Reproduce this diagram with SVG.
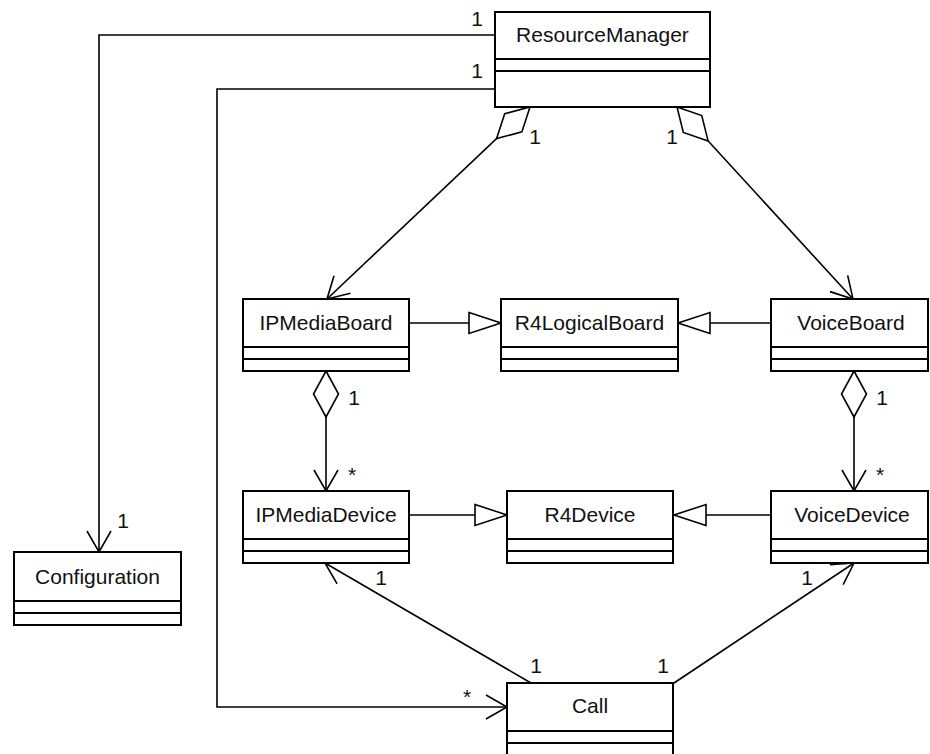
<svg xmlns="http://www.w3.org/2000/svg" width="930" height="754" viewBox="0 0 930 754">
<style>
  .box { fill: #ffffff; stroke: #000000; stroke-width: 2; }
  .sep { stroke: #000000; stroke-width: 2; fill: none; }
  .name { font-family: "Liberation Sans", Arial, sans-serif; font-size: 21px; fill: #111111; text-anchor: middle; }
  .mult { font-family: "Liberation Sans", Arial, sans-serif; font-size: 21px; fill: #111111; text-anchor: middle; }
  .conn { fill: none; stroke: #000000; stroke-width: 1.6; }
</style>
<defs>
  <marker id="open" markerUnits="userSpaceOnUse" markerWidth="40" markerHeight="40" refX="0" refY="0" orient="auto" style="overflow:visible">
    <path d="M -21 -12 L 0 0 L -21 12" fill="none" stroke="#000" stroke-width="1.6"/>
  </marker>
  <marker id="tri" markerUnits="userSpaceOnUse" markerWidth="40" markerHeight="40" refX="0" refY="0" orient="auto" style="overflow:visible">
    <path d="M -32 -10.5 L 0 0 L -32 10.5 Z" fill="#fff" stroke="#000" stroke-width="1.6"/>
  </marker>
  <marker id="dia" markerUnits="userSpaceOnUse" markerWidth="60" markerHeight="40" refX="0" refY="0" orient="auto" style="overflow:visible">
    <path d="M 0 0 L 23 -12.5 L 46 0 L 23 12.5 Z" fill="#fff" stroke="#000" stroke-width="1.6"/>
  </marker>
</defs>

<g id="connectors">
  <polyline id="c-rm-config" class="conn" points="495,35 99,35 99,552" marker-end="url(#open)"/>
  <polyline id="c-rm-call" class="conn" points="495,89 217,89 217,707 507,707" marker-end="url(#open)"/>
  <line id="c-rm-ipboard" class="conn" x1="530" y1="107" x2="327" y2="299" marker-start="url(#dia)" marker-end="url(#open)"/>
  <line id="c-rm-voiceboard" class="conn" x1="677" y1="107" x2="853" y2="299" marker-start="url(#dia)" marker-end="url(#open)"/>
  <line id="c-ipboard-r4board" class="conn" x1="409" y1="323" x2="501" y2="323" marker-end="url(#tri)"/>
  <line id="c-voiceboard-r4board" class="conn" x1="771" y1="323" x2="678" y2="323" marker-end="url(#tri)"/>
  <line id="c-ipboard-ipdev" class="conn" x1="326" y1="371" x2="326" y2="491" marker-start="url(#dia)" marker-end="url(#open)"/>
  <line id="c-voiceboard-voicedev" class="conn" x1="854" y1="371" x2="854" y2="491" marker-start="url(#dia)" marker-end="url(#open)"/>
  <line id="c-ipdev-r4dev" class="conn" x1="409" y1="515" x2="507" y2="515" marker-end="url(#tri)"/>
  <line id="c-voicedev-r4dev" class="conn" x1="771" y1="515" x2="674" y2="515" marker-end="url(#tri)"/>
  <line id="c-call-ipdev" class="conn" x1="531" y1="683" x2="325" y2="563" marker-end="url(#open)"/>
  <line id="c-call-voicedev" class="conn" x1="674" y1="683" x2="854" y2="563" marker-end="url(#open)"/>

  <text class="mult" x="477" y="26">1</text>
  <text class="mult" x="477" y="78">1</text>
  <text class="mult" x="535" y="144">1</text>
  <text class="mult" x="672" y="144">1</text>
  <text class="mult" x="354" y="405">1</text>
  <text class="mult" x="882" y="405">1</text>
  <text class="mult" x="352" y="482">*</text>
  <text class="mult" x="880" y="482">*</text>
  <text class="mult" x="123" y="528">1</text>
  <text class="mult" x="381" y="585">1</text>
  <text class="mult" x="807" y="585">1</text>
  <text class="mult" x="536" y="673">1</text>
  <text class="mult" x="663" y="673">1</text>
  <text class="mult" x="467" y="704">*</text>
</g>

<g id="ResourceManager">
  <rect class="box" x="495" y="12" width="215" height="95"/>
  <line class="sep" x1="495" y1="59" x2="710" y2="59"/>
  <line class="sep" x1="495" y1="71" x2="710" y2="71"/>
  <text class="name" x="602.5" y="42">ResourceManager</text>
</g>

<g id="IPMediaBoard">
  <rect class="box" x="243" y="299" width="166" height="72"/>
  <line class="sep" x1="243" y1="347" x2="409" y2="347"/>
  <line class="sep" x1="243" y1="359" x2="409" y2="359"/>
  <text class="name" x="326" y="330">IPMediaBoard</text>
</g>

<g id="R4LogicalBoard">
  <rect class="box" x="501" y="299" width="177" height="72"/>
  <line class="sep" x1="501" y1="347" x2="678" y2="347"/>
  <line class="sep" x1="501" y1="359" x2="678" y2="359"/>
  <text class="name" x="589.5" y="330">R4LogicalBoard</text>
</g>

<g id="VoiceBoard">
  <rect class="box" x="771" y="299" width="157" height="72"/>
  <line class="sep" x1="771" y1="347" x2="928" y2="347"/>
  <line class="sep" x1="771" y1="359" x2="928" y2="359"/>
  <text class="name" x="851" y="330">VoiceBoard</text>
</g>

<g id="IPMediaDevice">
  <rect class="box" x="243" y="491" width="166" height="72"/>
  <line class="sep" x1="243" y1="539" x2="409" y2="539"/>
  <line class="sep" x1="243" y1="551" x2="409" y2="551"/>
  <text class="name" x="326" y="522">IPMediaDevice</text>
</g>

<g id="R4Device">
  <rect class="box" x="507" y="491" width="166" height="72"/>
  <line class="sep" x1="507" y1="539" x2="673" y2="539"/>
  <line class="sep" x1="507" y1="551" x2="673" y2="551"/>
  <text class="name" x="590" y="522">R4Device</text>
</g>

<g id="VoiceDevice">
  <rect class="box" x="771" y="491" width="157" height="72"/>
  <line class="sep" x1="771" y1="539" x2="928" y2="539"/>
  <line class="sep" x1="771" y1="551" x2="928" y2="551"/>
  <text class="name" x="852" y="522">VoiceDevice</text>
</g>

<g id="Configuration">
  <rect class="box" x="14" y="552" width="167" height="73"/>
  <line class="sep" x1="14" y1="601" x2="181" y2="601"/>
  <line class="sep" x1="14" y1="613" x2="181" y2="613"/>
  <text class="name" x="97.5" y="583.5">Configuration</text>
</g>

<g id="Call">
  <rect class="box" x="507" y="683" width="166" height="80"/>
  <line class="sep" x1="507" y1="731" x2="673" y2="731"/>
  <line class="sep" x1="507" y1="743" x2="673" y2="743"/>
  <text class="name" x="590" y="713">Call</text>
</g>
</svg>
